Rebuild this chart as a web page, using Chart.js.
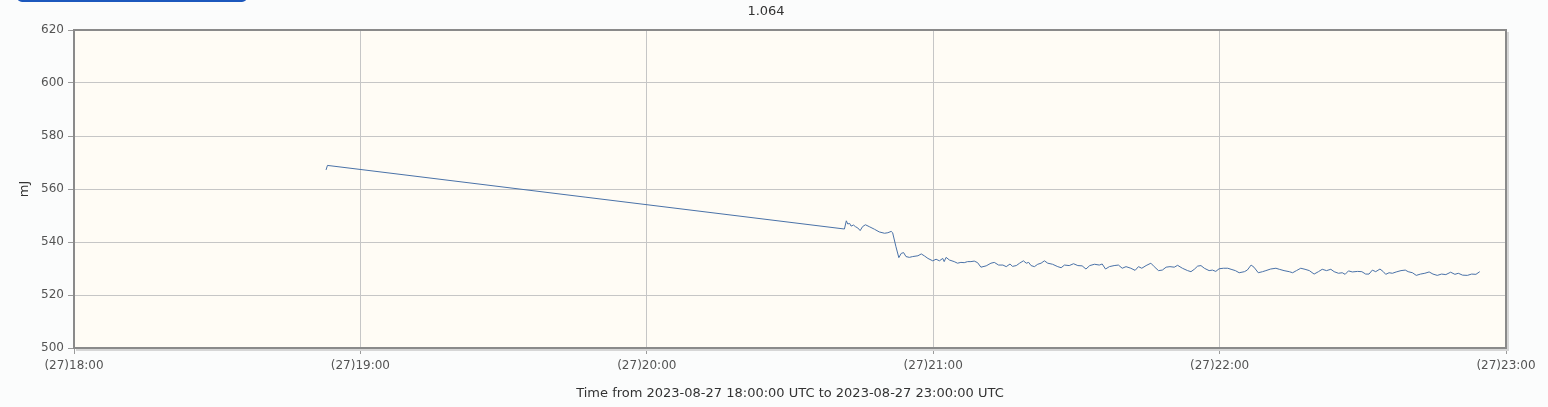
<!DOCTYPE html>
<html>
<head>
<meta charset="utf-8">
<script src="https://cdn.jsdelivr.net/npm/chart.js@4/dist/chart.umd.min.js"></script>
<style>
  html, body { margin: 0; padding: 0; background: #fbfcfc; }
  #wrap { position: relative; width: 1548px; height: 407px; }
  #btn { position: absolute; left: 17px; top: -6px; width: 230px; height: 8px; background: #1c58bd; border-radius: 0 0 5px 5px; }
  #title { position: absolute; left: 0; top: 3px; width: 1532px; text-align: center; font: 13px "DejaVu Sans", sans-serif; color: #333; }
</style>
</head>
<body>
<div id="wrap">
  <div id="btn"></div>
  <div id="title">1.064</div>
  <canvas id="chart" width="1548" height="407"></canvas>
</div>
<script>
// minutes after 2023-08-27 18:00 UTC
var minutes = [52.8, 53.1, 161.4,
  161.8, 162.1, 162.5, 162.8, 163.3, 163.7, 164.2, 164.7, 165.2, 165.8, 166.6, 167.7, 168.7, 169.8, 170.5, 171.2,
  171.5, 172.2, 172.8, 173.3, 173.8, 174.3, 175.0, 175.7, 176.8, 177.5, 178.2, 178.9, 179.9, 180.6, 181.3, 182.0,
  182.3, 182.7, 183.4, 184.4, 185.1, 185.8, 186.5, 187.2, 187.9, 188.6, 189.3, 190.0, 191.1, 192.1, 192.8, 193.7,
  194.6, 195.3, 196.1, 196.6, 197.4, 198.1, 198.9, 199.5, 200.0, 200.5, 201.2, 201.9, 202.6, 203.3, 204.0, 205.0,
  206.1, 206.8, 207.5, 208.5, 209.4, 210.3, 211.2, 212.0, 212.8, 213.8, 214.8, 215.4, 216.1, 216.9, 217.9, 218.8,
  219.6, 220.4, 221.4, 222.3, 223.0, 223.7, 224.6, 225.6, 226.3, 227.2,
  228.0, 228.8, 229.6, 230.5, 231.2, 232.2, 233.3, 234.0, 234.7, 235.4, 236.1, 236.8, 237.8, 238.5, 239.2, 239.9,
  240.8, 241.7, 242.4, 243.3, 244.1, 245.2, 245.8, 246.6, 247.2, 248.1, 249.0, 249.7, 250.7, 251.8, 252.5, 253.5,
  254.6, 255.3, 256.1, 257.0, 257.9, 258.8, 259.8, 260.7,
  261.5, 262.4, 263.3, 264.0, 264.9, 265.7, 266.3, 267.0, 267.8, 268.9, 269.8, 270.6, 271.3, 272.0, 272.7, 273.6,
  274.3, 274.8, 275.5, 276.2, 277.0, 278.0, 278.9, 279.5, 280.4, 281.2, 282.1, 283.0, 283.9, 284.7, 285.6, 286.5,
  287.4, 288.4, 289.3, 290.0, 290.9, 291.9, 292.8, 293.7, 294.5];

// energy, mJ
var energy = [567.2, 568.9, 544.9,
  548.0, 546.8, 547.0, 546.0, 546.4, 545.8, 545.3, 544.3, 545.8, 546.5, 545.8, 544.8, 543.8, 543.3, 543.5, 544.0,
  543.5, 538.2, 534.1, 535.7, 536.0, 534.5, 534.2, 534.5, 534.8, 535.5, 534.7, 533.8, 532.9, 533.5, 532.9, 533.8,
  532.6, 534.2, 533.2, 532.6, 532.0, 532.3, 532.2, 532.6, 532.6, 532.8, 532.2, 530.5, 531.0, 532.0, 532.3, 531.3,
  531.3, 530.7, 531.7, 530.8, 531.1, 532.0, 532.9, 532.0, 532.3, 531.1, 530.7, 531.6, 532.0, 532.9, 532.0, 531.6,
  530.7, 530.3, 531.3, 531.1, 531.8, 531.1, 531.0, 529.8, 531.1, 531.6, 531.3, 531.7, 529.8, 530.7, 531.1, 531.3,
  530.1, 530.7, 530.1, 529.3, 530.7, 530.1, 531.1, 532.0, 530.7, 529.2,
  529.4, 530.5, 530.7, 530.5, 531.2, 530.1, 529.2, 528.8, 529.7, 530.9, 531.1, 530.1, 529.2, 529.4, 528.9, 529.9,
  530.1, 530.1, 529.7, 529.2, 528.4, 528.8, 529.4, 531.3, 530.5, 528.4, 528.8, 529.2, 529.8, 530.1, 529.7, 529.2,
  528.8, 528.4, 529.2, 530.1, 529.7, 529.2, 527.9, 528.8,
  529.7, 529.2, 529.7, 528.8, 528.2, 528.4, 527.8, 529.1, 528.7, 528.9, 528.8, 527.9, 527.9, 529.4, 528.8, 529.8,
  528.8, 527.8, 528.4, 528.2, 528.7, 529.2, 529.4, 528.8, 528.4, 527.4, 527.9, 528.2, 528.7, 527.9, 527.4, 527.9,
  527.7, 528.6, 527.8, 528.2, 527.5, 527.4, 527.9, 527.8, 528.8];

var yTicks = [500, 520, 540, 560, 580, 600, 620];
var xTickHours = ['18', '19', '20', '21', '22', '23'];

var points = minutes.map(function (m, i) { return { x: m, y: energy[i] }; });

var font = { family: 'DejaVu Sans', size: 12 };
var titleFont = { family: 'DejaVu Sans', size: 13 };

// cream plot background + flot-like border
var plotFrame = {
  id: 'plotFrame',
  beforeDraw: function (chart) {
    var a = chart.chartArea, c = chart.ctx;
    c.save();
    c.fillStyle = '#fffcf5';
    c.fillRect(a.left, a.top, a.right - a.left, a.bottom - a.top);
    c.restore();
  },
  afterDraw: function (chart) {
    var a = chart.chartArea, c = chart.ctx;
    c.save();
    c.strokeStyle = '#d6d6d6';
    c.lineWidth = 2;
    c.beginPath();
    c.moveTo(a.right + 2, a.top + 2);
    c.lineTo(a.right + 2, a.bottom + 2);
    c.lineTo(a.left + 2, a.bottom + 2);
    c.stroke();
    c.strokeStyle = '#8a8a8a';
    c.lineWidth = 2;
    c.strokeRect(a.left, a.top, a.right - a.left, a.bottom - a.top);
    c.restore();
  }
};

new Chart(document.getElementById('chart'), {
  type: 'line',
  data: {
    datasets: [{
      data: points,
      borderColor: '#4a72a8',
      borderWidth: 1,
      pointRadius: 0,
      tension: 0,
      fill: false
    }]
  },
  options: {
    responsive: false,
    animation: false,
    layout: { padding: { left: 0, right: 42, top: 30, bottom: 0 } },
    plugins: { legend: { display: false }, tooltip: { enabled: false } },
    scales: {
      x: {
        type: 'linear',
        min: 0,
        max: 300,
        afterFit: function (s) { s.height = 59; },
        afterBuildTicks: function (s) {
          s.ticks = xTickHours.map(function (h, i) { return { value: i * 60 }; });
        },
        ticks: {
          autoSkip: false,
          maxRotation: 0,
          padding: 5,
          color: '#545454',
          font: font,
          callback: function (v) { return '(27)' + xTickHours[Math.round(v / 60)] + ':00'; }
        },
        grid: { color: '#c6c6c6', tickColor: '#9a9a9a', tickLength: 6 },
        border: { display: false },
        title: {
          display: true,
          text: 'Time from 2023-08-27 18:00:00 UTC to 2023-08-27 23:00:00 UTC',
          color: '#333',
          font: titleFont,
          padding: { top: 6, bottom: 6 }
        }
      },
      y: {
        min: 500,
        max: 620,
        afterFit: function (s) { s.width = 74; },
        afterBuildTicks: function (s) {
          s.ticks = yTicks.map(function (v) { return { value: v }; });
        },
        ticks: { padding: 4, color: '#545454', font: font },
        grid: { color: '#c6c6c6', tickColor: '#9a9a9a', tickLength: 6 },
        border: { display: false },
        title: {
          display: true,
          text: 'mJ',
          color: '#333',
          font: titleFont,
          padding: { top: 17, bottom: 0 }
        }
      }
    }
  },
  plugins: [plotFrame]
});
</script>
</body>
</html>
